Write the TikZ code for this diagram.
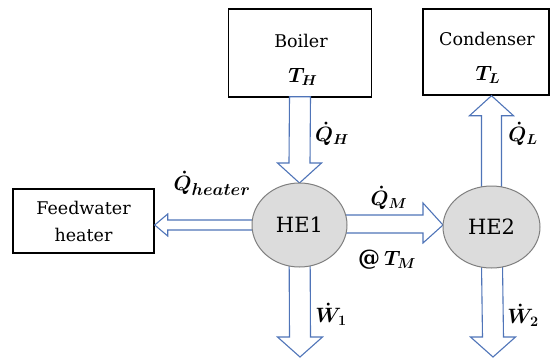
\documentclass[tikz,border=0pt]{standalone}
\usepackage{fontspec}
\usepackage{amsmath}
\setmainfont{DejaVu Serif}
\usetikzlibrary{calc,shapes.geometric}
\definecolor{arrblue}{HTML}{4F74B8}
\definecolor{hefill}{HTML}{DCDCDC}
\definecolor{heline}{HTML}{7F7F7F}
\tikzset{
  box/.style={draw=black, line width=1.4pt, fill=white, inner sep=0pt, align=center,
    font=\fontsize{17.5}{27}\selectfont},
  boxtxt/.style={inner sep=0pt, font=\fontsize{17.5}{21}\selectfont},
  he/.style={ellipse, draw=heline, line width=1pt, fill=hefill, inner sep=0pt,
    font=\fontsize{21}{24}\selectfont},
  harrow/.style={draw=arrblue, line width=1.1pt, fill=white, line join=miter},
  lbl/.style={inner sep=0pt, font=\fontsize{22}{24}\selectfont\boldmath},
}
\begin{document}
\begin{tikzpicture}[x=1pt,y=-1pt]
\useasboundingbox (0,0) rectangle (555,360);
% boxes
\node[box, minimum width=143pt, minimum height=88pt] (boiler) at (300,53) {};
\node[box, minimum width=126pt, minimum height=86pt] (cond) at (486,52) {};
\node[box, minimum width=141pt, minimum height=64pt] (feed) at (83.5,221) {Feedwater\\heater};
\node[boxtxt] (boilertxt) at (301,41) {Boiler};
\node[lbl] (th) at (303,77) {$T_H$};
\node[boxtxt] (condtxt) at (487,39) {Condenser};
\node[lbl] (tl) at (488,75) {$T_L$};
% ellipse centres (drawn later)
\coordinate (c1) at (299.5,225);
\coordinate (c2) at (491.5,227);
\coordinate (w1end) at (300,357);
\coordinate (w2end) at (493,357);
% Q_H arrow: boiler -> HE1
\path (c1) ++(0,-42) coordinate (he1top);
\draw[harrow] ($(boiler.south)+(-10.5,-1)$) -- ($(he1top)+(-10.5,-20)$) -- ($(he1top)+(-22,-20)$)
  -- (he1top) -- ($(he1top)+(22,-20)$) -- ($(he1top)+(10.5,-20)$) -- ($(boiler.south)+(10.5,-1)$) -- cycle;
% W1 arrow
\draw[harrow] ($(c1)+(-10.5,0)$) -- ($(w1end)+(-10.5,-20)$) -- ($(w1end)+(-22.5,-20)$)
  -- (w1end) -- ($(w1end)+(22.5,-20)$) -- ($(w1end)+(10.5,-20)$) -- ($(c1)+(10.5,0)$) -- cycle;
% W2 arrow
\draw[harrow] ($(c2)+(-10.5,0)$) -- ($(w2end)+(-10.5,-20)$) -- ($(w2end)+(-22.5,-20)$)
  -- (w2end) -- ($(w2end)+(22.5,-20)$) -- ($(w2end)+(10.5,-20)$) -- ($(c2)+(10.5,0)$) -- cycle;
% Q_L arrow: HE2 -> condenser
\path (c2 |- cond.south) coordinate (qltip);
\draw[harrow] ($(c2)+(-10,0)$) -- ($(qltip)+(-10,20)$) -- ($(qltip)+(-22,20)$)
  -- (qltip) -- ($(qltip)+(22,20)$) -- ($(qltip)+(10,20)$) -- ($(c2)+(10,0)$) -- cycle;
% Q_M arrow: HE1 -> HE2
\path (c2) ++(-48.5,0) coordinate (he2left);
\draw[harrow] ($(c1)+(0,-10)$) -- ($(he2left)+(-20,-12)$) -- ($(he2left)+(-20,-24)$)
  -- ($(he2left)+(0,-2)$) -- ($(he2left)+(-20,16)$) -- ($(he2left)+(-20,6)$) -- ($(c1)+(0,8)$) -- cycle;
% Q_heater arrow: HE1 -> feedwater heater
\path (feed.east |- c1) coordinate (fhtip);
\draw[harrow] ($(c1)+(0,-5)$) -- ($(fhtip)+(13,-5)$) -- ($(fhtip)+(13,-11)$)
  -- (fhtip) -- ($(fhtip)+(13,11)$) -- ($(fhtip)+(13,5)$) -- ($(c1)+(0,5)$) -- cycle;
% heat engines
\node[he, minimum width=95pt, minimum height=84pt] (he1) at (c1) {HE1};
\node[he, minimum width=97pt, minimum height=82pt] (he2) at (c2) {HE2};
% labels
\node[lbl] (qh) at (332,134) {$\dot{Q}_H$};
\node[lbl] (ql) at (523,134) {$\dot{Q}_L$};
\node[lbl] (qm) at (389,198) {$\dot{Q}_M$};
\node[lbl] (tm) at (387,260) {$@\,T_M$};
\node[lbl] (qhe) at (212,183) {$\dot{Q}_{\text{\fontsize{19}{20}\selectfont$heater$}}$};
\node[lbl] (w1) at (331,314) {$\dot{W}_1$};
\node[lbl] (w2) at (523,315) {$\dot{W}_2$};
\end{tikzpicture}
\end{document}
